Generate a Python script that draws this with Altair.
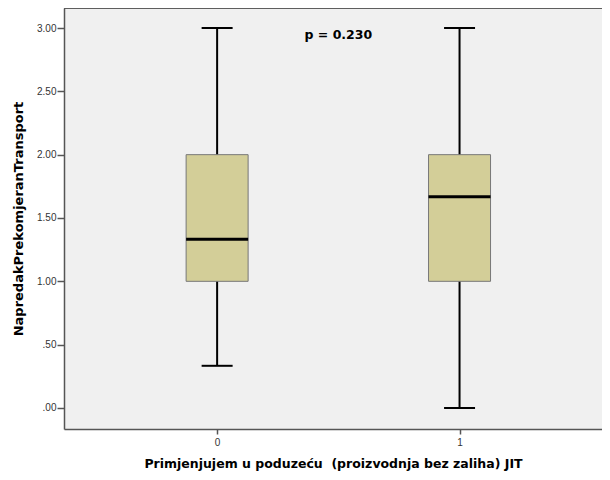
import altair as alt
import pandas as pd

groups = [0, 1]
whisker_low = [0.333, 0.0]
q1 = [1.0, 1.0]
median = [1.333, 1.667]
q3 = [2.0, 2.0]
whisker_high = [3.0, 3.0]

y_ticks = [0, 0.5, 1.0, 1.5, 2.0, 2.5, 3.0]
x_ticks = [0, 1]

annotation_text = ["p = 0.230"]
annotation_x = [0.5]
annotation_y = [2.945]

df = pd.DataFrame({"g": groups, "lo": whisker_low, "q1": q1, "med": median,
                   "q3": q3, "hi": whisker_high})
ann = pd.DataFrame({"t": annotation_text, "x": annotation_x, "y": annotation_y})

FONT = "Liberation Sans"
TFONT = "DejaVu Sans"
W, H = 538, 421
xscale = alt.Scale(domain=[-0.611, 1.567], nice=False, zero=False)
yscale = alt.Scale(domain=[-0.166, 3.158], nice=False, zero=False)

xaxis = alt.Axis(values=x_ticks, title="Primjenjujem u poduzeću \u00a0(proizvodnja bez zaliha) JIT",
                 labelExpr="format(datum.value, 'd')", grid=False,
                 domainColor="#555555", domainWidth=1.5, tickColor="#555555", tickWidth=1.5,
                 tickSize=5, labelFontSize=10, labelColor="#333333", labelFont=FONT,
                 labelPadding=3, titleFont=TFONT, titleFontSize=12.5, titleFontWeight="bold",
                 titleColor="#000000", titlePadding=10)
yaxis = alt.Axis(values=y_ticks, title="NapredakPrekomjeranTransport",
                 labelExpr="datum.value < 1 ? substring(format(datum.value, '.2f'), 1) : format(datum.value, '.2f')",
                 grid=False, domainColor="#555555", domainWidth=1.5, tickColor="#555555",
                 tickWidth=1.5, tickSize=7, labelFontSize=10, labelColor="#333333",
                 labelFont=FONT, labelPadding=1, titleFont=TFONT, titleFontSize=13,
                 titleFontWeight="bold", titleColor="#000000", titlePadding=11)

base = alt.Chart(df)

whisk = base.mark_rule(color="#000000", strokeWidth=2).encode(
    x=alt.X("g:Q", scale=xscale, axis=xaxis),
    y=alt.Y("lo:Q", scale=yscale, axis=yaxis),
    y2="hi:Q",
)
caps_lo = base.mark_tick(color="#000000", thickness=2, size=31, orient="horizontal",
                         opacity=1).encode(
    x=alt.X("g:Q", scale=xscale), y=alt.Y("lo:Q", scale=yscale))
caps_hi = base.mark_tick(color="#000000", thickness=2, size=31, orient="horizontal",
                         opacity=1).encode(
    x=alt.X("g:Q", scale=xscale), y=alt.Y("hi:Q", scale=yscale))
box = base.mark_bar(size=62, color="#d3ce98", stroke="#777777", strokeWidth=1,
                    opacity=1).encode(
    x=alt.X("g:Q", scale=xscale), y=alt.Y("q1:Q", scale=yscale), y2="q3:Q")
med = base.mark_tick(color="#000000", thickness=3, size=62, orient="horizontal",
                     opacity=1).encode(
    x=alt.X("g:Q", scale=xscale), y=alt.Y("med:Q", scale=yscale))

top_border = alt.Chart(df).mark_rule(color="#555555", strokeWidth=1.5).encode(
    x=alt.value(0), x2=alt.value(W), y=alt.value(0))

text = alt.Chart(ann).mark_text(font=TFONT, fontSize=12.5, fontWeight="bold", color="#000000",
                                baseline="middle", align="center").encode(
    x=alt.X("x:Q", scale=xscale), y=alt.Y("y:Q", scale=yscale), text="t:N")

chart = alt.layer(whisk, caps_lo, caps_hi, box, med, top_border, text).properties(
    width=W, height=H,
    autosize=alt.AutoSizeParams(type="none"),
    padding={"left": 56, "top": 0, "right": 0, "bottom": 43},
    background="#ffffff",
).configure_view(fill="#f0f0f0", strokeWidth=0)

chart.save("out.html", embed_options={"renderer": "svg", "actions": False})
